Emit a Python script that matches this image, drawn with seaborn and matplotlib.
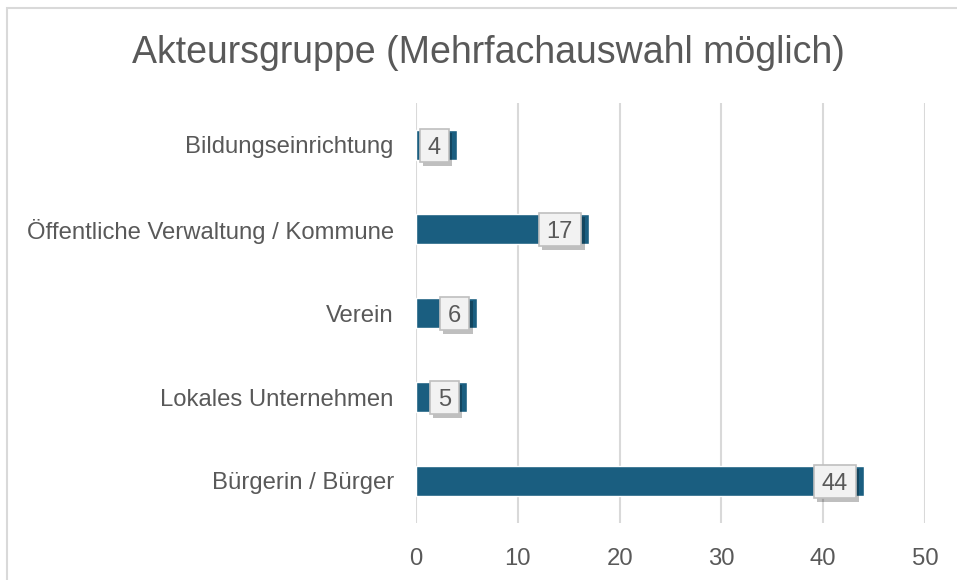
import matplotlib
matplotlib.use('Agg')
import matplotlib.pyplot as plt
import matplotlib.patheffects as pe
import seaborn as sns
import pandas as pd
from matplotlib.patches import Rectangle
from matplotlib.path import Path

categories = ['Bildungseinrichtung', 'Öffentliche Verwaltung / Kommune', 'Verein',
              'Lokales Unternehmen', 'Bürgerin / Bürger']
counts = [4, 17, 6, 5, 44]
x_ticks = [0, 10, 20, 30, 40, 50]

title = 'Akteursgruppe (Mehrfachauswahl möglich)'
text_color = '#595959'
bar_color = '#1a5e80'
grid_color = '#d9d9d9'


def label_box(x0, y0, width, height, mutation_size):
    # wider padding left/right, a bit more on top so the digits sit centred
    px = 0.34 * mutation_size
    pt = 0.33 * mutation_size
    pb = 0.15 * mutation_size
    return Path([(x0 - px, y0 - pb), (x0 + width + px, y0 - pb),
                 (x0 + width + px, y0 + height + pt), (x0 - px, y0 + height + pt),
                 (x0 - px, y0 - pb)], closed=True)


sns.set_style('white')
plt.rcParams['font.family'] = ['Liberation Sans', 'DejaVu Sans']

df = pd.DataFrame({'Akteur': categories, 'Anzahl': counts})

fig = plt.figure(figsize=(9.57, 5.8), dpi=100)
ax = fig.add_axes([416 / 957, 1 - 523 / 580, 509 / 957, 420 / 580])

sns.barplot(data=df, x='Anzahl', y='Akteur', orient='h', color=bar_color,
            saturation=1, width=0.35, ax=ax, zorder=3)

ax.set_xlim(0, 50)
ax.set_xticks(x_ticks)
ax.xaxis.grid(True, color=grid_color, linewidth=1.5, zorder=0)
ax.set_axisbelow(True)
for s in ax.spines.values():
    s.set_visible(False)
ax.tick_params(axis='both', length=0, labelsize=17.2, labelcolor=text_color)
ax.tick_params(axis='y', pad=16)
ax.tick_params(axis='x', pad=18)
ax.set_xlabel('')
ax.set_ylabel('')

# data labels with boxed background and drop shadow
for i, value in enumerate(counts):
    t = ax.annotate(str(value), xy=(value, i), xytext=(-11.5, -1.8), textcoords='offset points',
                    ha='right', va='center', fontsize=17, color=text_color, zorder=5,
                    bbox=dict(boxstyle=label_box, facecolor='#f2f2f2',
                              edgecolor='#bfbfbf', linewidth=1.2))
    t.get_bbox_patch().set_path_effects([
        pe.SimplePatchShadow(offset=(2.5, -3), shadow_rgbFace='black', alpha=0.25),
        pe.Normal()])

fig.text(488 / 957, 1 - 53 / 580, title, ha='center', va='center', fontsize=27, color=text_color)

# outer chart frame
fig.patches.append(Rectangle((7 / 957, -0.1), 1.2, 1 - 8 / 580 + 0.1, transform=fig.transFigure,
                             fill=False, edgecolor=grid_color, linewidth=1.5))

fig.savefig('out.png', dpi=100)
